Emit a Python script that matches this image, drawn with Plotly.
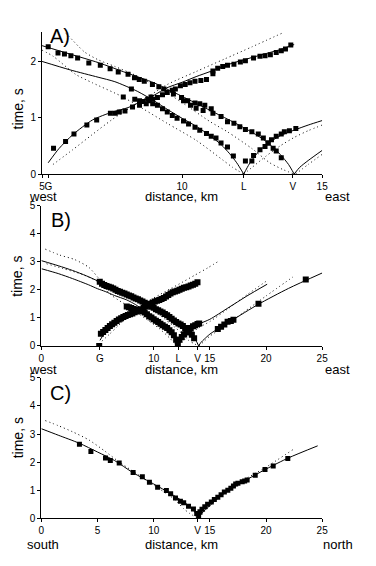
import plotly.graph_objects as go

# ---------------- Panel A (distance 5-15 km) ----------------
A_xtick_vals = [5, 5.23, 10, 12.2, 13.95, 15]
A_xtick_text = ["5", "G", "10", "L", "V", "15"]
A_ytick_vals = [0, 1, 2]

# observed travel times
A_G_obs_d = [5.41, 5.84, 6.14, 6.60, 6.95, 7.44, 7.61, 7.76, 7.96, 8.23, 8.48, 8.72, 8.83, 8.95, 9.12, 9.30, 9.47, 9.65, 9.76, 9.94,
             10.11, 10.28, 10.46, 10.67, 10.87, 11.10, 11.10, 11.27, 11.45, 11.62, 11.85, 12.08, 12.26, 12.55, 12.78, 12.96, 13.15, 13.36, 13.54, 13.69, 13.88]
A_G_obs_t = [0.46, 0.58, 0.71, 0.87, 0.96, 1.08, 1.08, 1.10, 1.12, 1.19, 1.22, 1.25, 1.30, 1.33, 1.36, 1.41, 1.45, 1.49, 1.51, 1.57,
             1.59, 1.62, 1.65, 1.66, 1.68, 1.83, 1.78, 1.88, 1.91, 1.93, 1.95, 1.99, 2.01, 2.06, 2.09, 2.10, 2.12, 2.16, 2.19, 2.22, 2.29]
A_V_obs_d = [5.22, 5.57, 5.80, 6.03, 6.27, 6.67, 7.08, 7.43, 7.72, 8.07, 8.30, 8.47, 8.65, 8.94, 9.17, 9.35, 9.69, 9.98, 10.20, 10.46,
             10.63, 10.81, 11.04, 10.05, 10.30, 10.50, 10.75, 11.10, 11.39, 11.62, 11.85, 12.06, 12.26, 12.49, 12.72, 12.90, 13.07, 13.25, 13.36, 13.54]
A_V_obs_t = [2.26, 2.15, 2.13, 2.10, 2.06, 1.97, 1.93, 1.87, 1.81, 1.77, 1.71, 1.68, 1.65, 1.59, 1.55, 1.51, 1.42, 1.36, 1.30, 1.26,
             1.25, 1.22, 1.16, 1.30, 1.22, 1.17, 1.13, 1.08, 1.02, 0.93, 0.90, 0.84, 0.79, 0.75, 0.71, 0.64, 0.55, 0.46, 0.41, 0.29]
A_L_obs_d = [7.90, 8.19, 8.31, 8.48, 8.60, 8.77, 8.89, 8.95, 9.12, 9.30, 9.47, 9.65, 9.82, 10.05, 10.23, 10.46, 10.63, 10.87, 11.04, 11.21, 11.39, 11.62, 11.83]
A_L_obs_t = [1.37, 1.51, 1.33, 1.30, 1.29, 1.33, 1.37, 1.25, 1.22, 1.16, 1.10, 1.04, 0.99, 0.94, 0.89, 0.83, 0.78, 0.72, 0.67, 0.64, 0.55, 0.48, 0.32]
A_Le_obs_d = [12.26, 12.49, 12.55, 12.78, 12.96, 13.07, 13.19, 13.36, 13.54, 13.65, 13.83, 14.06]
A_Le_obs_t = [0.23, 0.23, 0.33, 0.43, 0.49, 0.55, 0.61, 0.67, 0.71, 0.75, 0.77, 0.81]

# model curves (solid = model 1, dotted = model 2)
A_SG_d = [5.22, 5.6, 6.1, 6.8, 7.5, 8.07, 8.5, 9.0, 9.45, 10.0, 10.5, 11.0, 11.5, 12.0, 12.5, 13.0, 13.5, 14.0]
A_SG_t = [0.20, 0.45, 0.70, 0.96, 1.10, 1.18, 1.28, 1.40, 1.53, 1.63, 1.73, 1.82, 1.92, 2.00, 2.07, 2.14, 2.21, 2.30]
A_DG_d = [5.39, 6.09, 6.79, 7.48, 8.18, 8.8, 9.47, 10.5, 11.5, 12.5, 13.65]
A_DG_t = [0.17, 0.43, 0.70, 0.96, 1.19, 1.38, 1.59, 1.82, 2.04, 2.26, 2.52]
A_SV_d = [5.0, 6.0, 7.0, 8.0, 9.0, 9.5, 10.0, 11.0, 11.8, 12.5, 13.0, 13.5, 13.8, 14.0]
A_SV_t = [2.28, 2.13, 1.98, 1.80, 1.62, 1.50, 1.38, 1.13, 0.93, 0.74, 0.58, 0.35, 0.17, 0.0]
A_DV_d = [5.74, 5.93, 6.51, 7.0, 7.6, 8.4, 9.0, 10.0, 11.0, 11.62, 12.5, 13.13, 13.6, 14.0]
A_DV_t = [2.55, 2.46, 2.17, 2.03, 1.91, 1.74, 1.58, 1.27, 0.93, 0.75, 0.45, 0.20, 0.08, 0.0]
A_SL_d = [5.0, 6.0, 7.0, 7.6, 8.4, 9.0, 9.5, 10.0, 10.5, 11.0, 11.4, 11.7, 11.95, 12.2]
A_SL_t = [2.00, 1.85, 1.72, 1.64, 1.47, 1.30, 1.14, 0.99, 0.85, 0.68, 0.52, 0.36, 0.20, 0.0]
A_DL_d = [5.0, 5.4, 6.2, 6.8, 7.8, 8.3, 9.47, 10.5, 11.45, 11.8, 12.2]
A_DL_t = [2.20, 2.09, 1.77, 1.62, 1.39, 1.25, 0.90, 0.60, 0.25, 0.12, 0.0]
A_SLe_d = [12.2, 12.4, 12.7, 13.0, 13.5, 14.0, 14.5, 15.0]
A_SLe_t = [0.0, 0.18, 0.38, 0.52, 0.68, 0.78, 0.87, 0.95]
A_DLe_d = [12.2, 12.5, 13.0, 13.5, 14.0, 14.5, 15.0]
A_DLe_t = [0.0, 0.12, 0.32, 0.50, 0.65, 0.77, 0.87]
A_SVe_d = [14.0, 14.2, 14.5, 15.0]
A_SVe_t = [0.0, 0.12, 0.24, 0.42]
A_DVe_d = [14.05, 14.5, 15.0]
A_DVe_t = [0.0, 0.17, 0.35]

# ---------------- Panel B (distance 0-25 km, west-east) ----------------
B_xtick_vals = [0, 5.2, 10, 12.2, 13.9, 15, 20, 25]
B_xtick_text = ["0", "G", "10", "L", "V", "15", "20", "25"]
B_ytick_vals = [0, 1, 2, 3, 4, 5]

B_G_obs_d = [5.15, 5.3, 5.5, 5.7, 5.9, 6.1, 6.3, 6.5, 6.7, 6.9, 7.1, 7.3, 7.5, 7.7, 7.9, 8.1, 8.3, 8.5, 8.7, 8.9, 9.1, 9.3, 9.5, 9.7, 9.9,
             10.1, 10.3, 10.5, 10.7, 10.9, 11.1, 11.3, 11.5, 11.7, 11.9, 12.1, 12.3, 12.5, 12.7, 12.9, 13.1, 13.3, 13.5, 13.7, 13.9]
B_G_obs_t = [0.0, 0.43, 0.50, 0.57, 0.64, 0.71, 0.77, 0.83, 0.89, 0.94, 0.99, 1.03, 1.07, 1.10, 1.13, 1.16, 1.20, 1.23, 1.27, 1.31, 1.36, 1.41, 1.45, 1.49, 1.54,
             1.58, 1.61, 1.64, 1.67, 1.71, 1.76, 1.82, 1.87, 1.91, 1.94, 1.97, 2.00, 2.04, 2.07, 2.09, 2.12, 2.15, 2.18, 2.22, 2.27]
B_V_obs_d = [5.2, 5.4, 5.6, 5.8, 6.0, 6.2, 6.4, 6.6, 6.8, 7.0, 7.2, 7.4, 7.6, 7.8, 8.0, 8.2, 8.4, 8.6, 8.8, 9.0, 9.2, 9.4, 9.6, 9.8,
             10.0, 10.2, 10.4, 10.6, 10.8, 11.0, 11.2, 11.4, 11.6, 11.8, 12.0, 12.2, 12.4, 12.6, 12.8, 13.0, 13.2, 13.4, 13.6]
B_V_obs_t = [2.29, 2.22, 2.17, 2.14, 2.11, 2.08, 2.05, 2.00, 1.96, 1.93, 1.90, 1.87, 1.83, 1.80, 1.77, 1.73, 1.69, 1.66, 1.62, 1.58, 1.54, 1.50, 1.45, 1.40,
             1.36, 1.31, 1.27, 1.23, 1.19, 1.14, 1.09, 1.03, 0.97, 0.91, 0.85, 0.80, 0.76, 0.71, 0.64, 0.57, 0.48, 0.40, 0.27]
B_L_obs_d = [7.6, 7.8, 8.0, 8.2, 8.4, 8.6, 8.8, 9.0, 9.2, 9.4, 9.6, 9.8, 10.0, 10.2, 10.4, 10.6, 10.8, 11.0, 11.2, 11.4, 11.6, 11.8, 12.0, 12.15]
B_L_obs_t = [1.41, 1.38, 1.35, 1.32, 1.30, 1.28, 1.27, 1.24, 1.19, 1.13, 1.06, 1.01, 0.95, 0.90, 0.85, 0.79, 0.74, 0.68, 0.64, 0.56, 0.49, 0.38, 0.22, 0.08]
B_Le_obs_d = [12.3, 12.5, 12.7, 12.9, 13.1, 13.3, 13.5, 13.7, 13.9, 14.05]
B_Le_obs_t = [0.22, 0.32, 0.42, 0.50, 0.57, 0.64, 0.70, 0.74, 0.78, 0.80]
B_Ve_obs_d = [15.71, 16.0, 16.29, 16.58, 16.87, 17.1, 19.33, 23.54]
B_Ve_obs_t = [0.60, 0.68, 0.76, 0.86, 0.89, 0.93, 1.50, 2.37]

B_SV_d = [0.0, 1.5, 2.78, 4.0, 5.0, 6.0, 7.0, 8.0, 9.0, 9.5, 10.0, 11.0, 11.8, 12.5, 13.0, 13.5, 13.8, 14.0]
B_SV_t = [3.04, 2.86, 2.69, 2.50, 2.32, 2.14, 1.98, 1.80, 1.62, 1.50, 1.38, 1.13, 0.93, 0.74, 0.58, 0.35, 0.17, 0.0]
B_DV_d = [0.35, 1.63, 2.96, 4.23, 5.25, 5.9, 6.5, 7.0, 8.0, 9.0, 10.0, 11.0, 11.6, 12.5, 13.1, 13.6, 14.0]
B_DV_t = [3.45, 3.24, 3.08, 2.80, 2.35, 2.13, 2.01, 1.93, 1.75, 1.54, 1.27, 0.95, 0.76, 0.45, 0.20, 0.08, 0.0]
B_SL_d = [0.03, 1.5, 2.78, 4.2, 5.0, 5.69, 6.5, 7.6, 8.4, 9.0, 9.5, 10.0, 10.5, 11.0, 11.4, 11.7, 11.95, 12.2]
B_SL_t = [2.75, 2.58, 2.40, 2.18, 2.04, 1.94, 1.80, 1.64, 1.47, 1.30, 1.14, 0.99, 0.85, 0.68, 0.52, 0.36, 0.20, 0.0]
B_DL_d = [0.47, 2.0, 3.65, 5.0, 5.4, 6.2, 6.8, 7.8, 8.3, 9.47, 10.5, 11.45, 11.8, 12.2]
B_DL_t = [2.93, 2.75, 2.55, 2.30, 2.15, 1.82, 1.65, 1.40, 1.25, 0.92, 0.62, 0.27, 0.12, 0.0]
B_SG_d = [5.22, 5.6, 6.1, 6.8, 7.5, 8.07, 8.5, 9.0, 9.45, 10.0, 10.5, 11.0, 11.5, 12.0, 12.5, 13.0, 13.5, 14.0]
B_SG_t = [0.20, 0.45, 0.70, 0.96, 1.10, 1.18, 1.28, 1.40, 1.53, 1.63, 1.73, 1.82, 1.92, 2.00, 2.07, 2.14, 2.21, 2.30]
B_DG_d = [5.39, 6.09, 6.79, 7.48, 8.18, 8.8, 9.47, 10.5, 11.5, 12.5, 13.65, 14.8, 15.86]
B_DG_t = [0.17, 0.43, 0.70, 0.96, 1.19, 1.38, 1.59, 1.82, 2.04, 2.26, 2.52, 2.78, 3.04]
B_SLe_d = [12.2, 12.4, 12.7, 13.0, 13.5, 14.0, 15.0, 16.6, 18.3, 20.1]
B_SLe_t = [0.0, 0.18, 0.38, 0.52, 0.68, 0.78, 0.95, 1.35, 1.78, 2.20]
B_DLe_d = [12.2, 12.5, 13.0, 13.5, 14.0, 15.0, 16.6, 18.4, 20.2]
B_DLe_t = [0.0, 0.12, 0.32, 0.50, 0.65, 0.87, 1.32, 1.85, 2.36]
B_SVe_d = [14.0, 14.2, 14.5, 15.0, 16.0, 17.0, 19.3, 22.0, 25.0]
B_SVe_t = [0.0, 0.12, 0.24, 0.42, 0.68, 0.92, 1.48, 2.05, 2.60]
B_DVe_d = [14.05, 14.5, 15.0, 16.0, 18.0, 20.0, 22.4]
B_DVe_t = [0.0, 0.17, 0.35, 0.62, 1.20, 1.78, 2.46]

# ---------------- Panel C (distance 0-25 km, south-north) ----------------
C_xtick_vals = [0, 5, 10, 13.9, 15, 20, 25]
C_xtick_text = ["0", "5", "10", "V", "15", "20", "25"]
C_ytick_vals = [0, 1, 2, 3, 4, 5]

C_S_obs_d = [3.39, 4.41, 5.71, 6.14, 6.93, 8.17, 8.99, 9.62, 10.35, 11.13, 11.51, 11.94, 12.38, 12.67, 13.10, 13.54, 13.83]
C_S_obs_t = [2.64, 2.38, 2.15, 2.06, 1.97, 1.63, 1.48, 1.28, 1.10, 0.99, 0.87, 0.72, 0.60, 0.55, 0.43, 0.33, 0.17]
C_N_obs_d = [14.0, 14.12, 14.3, 14.55, 14.8, 15.13, 15.4, 15.71, 16.0, 16.29, 16.6, 16.87, 17.1, 17.30, 17.5, 17.88, 18.1, 18.32, 19.04, 19.91, 20.64, 21.94]
C_N_obs_t = [0.06, 0.23, 0.32, 0.41, 0.50, 0.58, 0.67, 0.75, 0.84, 0.93, 1.00, 1.07, 1.15, 1.22, 1.25, 1.30, 1.33, 1.36, 1.53, 1.74, 1.86, 2.13]

C_SS_d = [0.0, 1.5, 3.39, 5.0, 6.5, 8.17, 10.0, 11.5, 12.5, 13.2, 13.6, 14.0]
C_SS_t = [3.19, 2.96, 2.67, 2.36, 2.06, 1.62, 1.22, 0.88, 0.63, 0.42, 0.25, 0.0]
C_DS_d = [0.35, 1.5, 2.78, 4.23, 5.69, 6.84, 8.5, 10.0, 11.5, 12.0, 12.64, 13.2, 13.95]
C_DS_t = [3.48, 3.30, 3.08, 2.79, 2.38, 2.03, 1.58, 1.18, 0.78, 0.62, 0.35, 0.17, 0.0]
C_SN_d = [14.0, 14.3, 15.0, 16.0, 17.0, 18.0, 20.0, 22.0, 24.6]
C_SN_t = [0.0, 0.18, 0.45, 0.80, 1.07, 1.31, 1.75, 2.15, 2.58]
C_DN_d = [14.0, 15.0, 16.0, 17.0, 18.0, 20.0, 22.38]
C_DN_t = [0.0, 0.44, 0.80, 1.10, 1.36, 1.82, 2.44]

# ---------------- figure ----------------
W, H = 376, 566
FONT = "Liberation Sans, Arial, sans-serif"


def fx(p):
    return p / W


def fy(p):
    return 1 - p / H


fig = go.Figure()


def obs(d, t, ax, size=5):
    fig.add_trace(go.Scatter(x=d, y=t, xaxis=ax[0], yaxis=ax[1], mode="markers",
                             marker=dict(symbol="square", size=size, color="black", line=dict(width=0)),
                             hoverinfo="skip", showlegend=False))


def model(d, t, ax, dotted=False):
    fig.add_trace(go.Scatter(x=d, y=t, xaxis=ax[0], yaxis=ax[1], mode="lines",
                             line=dict(color="black", width=1, dash="1px,3px" if dotted else "solid",
                                       shape="spline", smoothing=0.7),
                             hoverinfo="skip", showlegend=False))


AX_A, AX_B, AX_C = ("x", "y"), ("x2", "y2"), ("x3", "y3")

# panel A
for d, t, dot in [(A_SG_d, A_SG_t, False), (A_DG_d, A_DG_t, True), (A_SV_d, A_SV_t, False), (A_DV_d, A_DV_t, True),
                  (A_SL_d, A_SL_t, False), (A_DL_d, A_DL_t, True), (A_SLe_d, A_SLe_t, False), (A_DLe_d, A_DLe_t, True),
                  (A_SVe_d, A_SVe_t, False), (A_DVe_d, A_DVe_t, True)]:
    model(d, t, AX_A, dot)
for d, t in [(A_G_obs_d, A_G_obs_t), (A_V_obs_d, A_V_obs_t), (A_L_obs_d, A_L_obs_t), (A_Le_obs_d, A_Le_obs_t)]:
    obs(d, t, AX_A, 5)

# panel B
for d, t, dot in [(B_SG_d, B_SG_t, False), (B_DG_d, B_DG_t, True), (B_SV_d, B_SV_t, False), (B_DV_d, B_DV_t, True),
                  (B_SL_d, B_SL_t, False), (B_DL_d, B_DL_t, True), (B_SLe_d, B_SLe_t, False), (B_DLe_d, B_DLe_t, True),
                  (B_SVe_d, B_SVe_t, False), (B_DVe_d, B_DVe_t, True)]:
    model(d, t, AX_B, dot)
for d, t in [(B_G_obs_d, B_G_obs_t), (B_V_obs_d, B_V_obs_t), (B_L_obs_d, B_L_obs_t), (B_Le_obs_d, B_Le_obs_t),
             (B_Ve_obs_d, B_Ve_obs_t)]:
    obs(d, t, AX_B, 6)

# panel C
for d, t, dot in [(C_SS_d, C_SS_t, False), (C_DS_d, C_DS_t, True), (C_SN_d, C_SN_t, False), (C_DN_d, C_DN_t, True)]:
    model(d, t, AX_C, dot)
for d, t in [(C_S_obs_d, C_S_obs_t), (C_N_obs_d, C_N_obs_t)]:
    obs(d, t, AX_C, 5)

axis_common = dict(showline=True, linecolor="black", linewidth=1, ticks="outside", ticklen=3,
                   tickcolor="black", tickwidth=1, showgrid=False, zeroline=False, tickangle=0,
                   tickfont=dict(family=FONT, size=10, color="black"), fixedrange=True)

fig.update_layout(
    width=W, height=H, margin=dict(l=0, r=0, t=0, b=0),
    paper_bgcolor="white", plot_bgcolor="white", showlegend=False,
    xaxis=dict(domain=[fx(40), fx(327)], range=[5, 15], anchor="y", tickmode="array",
               tickvals=A_xtick_vals, ticktext=A_xtick_text, **axis_common),
    yaxis=dict(domain=[fy(171.7), fy(26.7)], range=[0, 2.52], anchor="x", tickmode="array",
               tickvals=A_ytick_vals, ticktext=[str(v) for v in A_ytick_vals], **axis_common),
    xaxis2=dict(domain=[fx(39.3), fx(327)], range=[0, 25], anchor="y2", tickmode="array",
                tickvals=B_xtick_vals, ticktext=B_xtick_text, **axis_common),
    yaxis2=dict(domain=[fy(347.3), fy(204)], range=[0, 5], anchor="x2", tickmode="array",
                tickvals=B_ytick_vals, ticktext=[str(v) for v in B_ytick_vals], **axis_common),
    xaxis3=dict(domain=[fx(39.3), fx(327)], range=[0, 25], anchor="y3", tickmode="array",
                tickvals=C_xtick_vals, ticktext=C_xtick_text, **axis_common),
    yaxis3=dict(domain=[fy(523.3), fy(380)], range=[0, 5], anchor="x3", tickmode="array",
                tickvals=C_ytick_vals, ticktext=[str(v) for v in C_ytick_vals], **axis_common),
)


def note(text, x, y, size=14, angle=0, xanchor="center"):
    fig.add_annotation(text=text, x=fx(x), y=fy(y), xref="paper", yref="paper", showarrow=False,
                       xanchor=xanchor, yanchor="middle", textangle=angle, borderpad=0,
                       font=dict(family=FONT, size=size, color="black"))


# panel letters
note("A)", 58, 31, size=20)
note("B)", 59, 219, size=20)
note("C)", 59, 395, size=20)
# y titles
note("time, s", 15, 105, angle=-90)
note("time, s", 15, 276, angle=-90)
note("time, s", 15, 441, angle=-90)
# x titles and directions
for yy, left, right in [(195, "west", "east"), (371, "west", "east"), (550, "south", "north")]:
    note(left, 41, yy, size=13)
    note("distance, km", 183, yy, size=13)
    note(right, 343, yy, size=13)

fig.write_html("out.html", config={"displayModeBar": False},
               post_script="document.body.style.margin='0px';document.body.style.overflow='hidden';")
